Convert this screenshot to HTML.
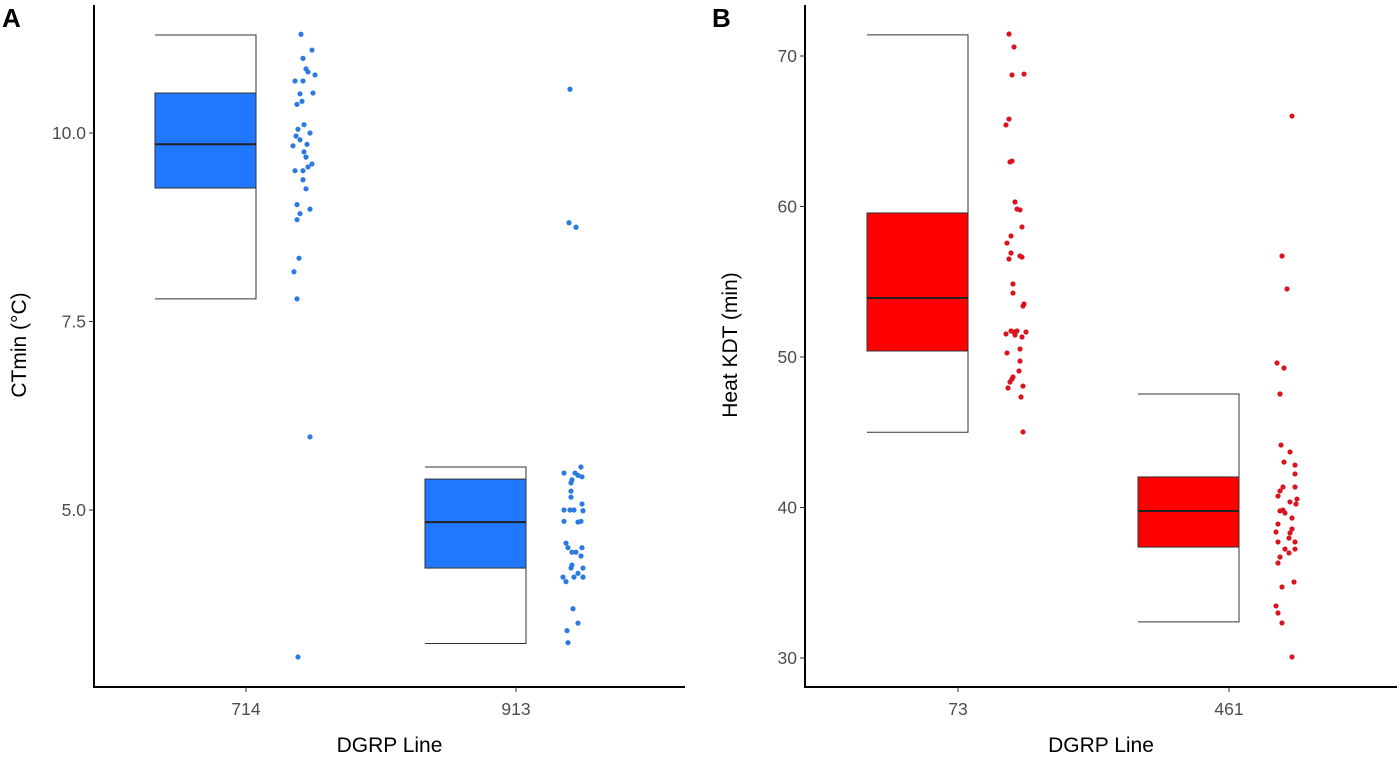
<!DOCTYPE html>
<html><head><meta charset="utf-8"><style>
body{margin:0;background:#fff;}
svg text{font-family:"Liberation Sans",sans-serif;}
</style></head><body>
<svg id="chart" width="1400" height="763"></svg>
<script>
// Panel A data
const catsA = ["714","913"];
const ticksA = [5.0, 7.5, 10.0];
const boxA = [[7.8,9.27,9.85,10.53,11.3],[3.23,4.23,4.84,5.41,5.57]];
const ptsA1 = [11.31,11.10,10.99,10.85,10.81,10.77,10.69,10.69,10.53,10.52,10.42,10.38,10.11,10.05,10.0,9.96,9.91,9.85,9.83,9.75,9.68,9.59,9.55,9.50,9.50,9.38,9.26,9.05,8.99,8.93,8.85,8.34,8.16,7.80,5.97,3.05];
const jitA1 = [-2,9,0,3,5,12,-8,0,10,-3,-1,-6,1,-5,7,-7,-3,4,-10,1,3,9,5,-8,0,0,3,-6,7,-3,-6,-4,-9,-6,7,-5];
const ptsA2 = [10.58,8.81,8.75,5.57,5.49,5.49,5.46,5.44,5.40,5.36,5.25,5.17,5.08,5.0,5.0,5.0,4.99,4.85,4.84,4.85,4.56,4.50,4.50,4.44,4.44,4.39,4.27,4.23,4.23,4.16,4.11,4.11,4.11,4.05,3.69,3.50,3.40,3.24];
const jitA2 = [-3,-4,3,8,-9,2,5,9,-1,-2,-2,-2,9,-9,-3,1,10,-9,5,8,-7,-5,9,-1,3,8,-1,10,-2,5,-10,10,1,-7,0,5,-6,-5];
// Panel B data
const catsB = ["73","461"];
const ticksB = [30,40,50,60,70];
const boxB = [[45.0,50.4,53.92,59.57,71.4],[32.4,37.37,39.77,42.03,47.54]];
const ptsB1 = [71.46,70.60,68.74,68.80,65.81,65.42,62.96,63.02,60.30,59.83,59.77,58.64,58.04,57.57,56.91,56.51,56.71,56.64,54.85,54.25,53.52,53.39,51.53,51.73,51.66,51.73,51.46,51.33,51.66,50.27,50.53,49.73,49.07,48.67,48.54,48.34,48.07,47.94,47.34,45.02];
const jitB1 = [-6,-1,-3,9,-6,-9,-5,-3,0,2,5,7,-4,-8,-4,-6,5,7,-2,-2,9,8,-9,-4,-1,2,0,7,11,-8,5,5,4,-2,-3,-5,8,-7,6,8];
const ptsB2 = [66.01,56.71,54.52,49.60,49.27,47.54,44.15,43.69,43.02,42.82,42.23,41.36,41.36,41.10,40.76,40.56,40.37,40.23,39.83,39.77,39.63,39.30,38.90,38.57,38.37,38.31,37.97,37.71,37.71,37.24,37.24,36.98,36.71,36.31,35.05,34.72,33.46,32.99,32.33,30.07];
const jitB2 = [6,-4,1,-9,-2,-6,-5,4,-2,9,9,-3,9,-6,-8,11,4,10,-3,-6,-1,6,-8,6,-10,4,3,-8,9,9,-1,3,-6,-8,8,-4,-10,-8,-4,6];

const NS="http://www.w3.org/2000/svg";
const svg=document.getElementById('chart');
function mk(tag,attrs,parent){const e=document.createElementNS(NS,tag);for(const k in attrs)e.setAttribute(k,attrs[k]);(parent||svg).appendChild(e);return e;}

function panel(o){
  const g=mk('g',{});
  
  
  const y=v=>o.y0+(v-o.v0)*(o.y1-o.y0)/(o.v1-o.v0);
  const x=i=>o.xc0+i*o.step;
  o.boxes.forEach((b,i)=>{
    const cx=x(i), l=cx-91, r=cx+10;
    const wl=mk('path',{d:`M${l} ${y(b[4])}H${r}V${y(b[3])}M${r} ${y(b[1])}V${y(b[0])}H${l}`,fill:'none',stroke:'#333','stroke-width':1},g);
    
    
    const rc=mk('rect',{x:l,y:y(b[3]),width:r-l,height:y(b[1])-y(b[3]),fill:o.color,stroke:'#333','stroke-width':1},g);
    
    
    const md=mk('line',{x1:l,x2:r,y1:y(b[2]),y2:y(b[2]),stroke:'#222','stroke-width':2},g);
    
    
  });
  o.pts.forEach((arr,i)=>{
    arr.forEach((v,k)=>{
      const c=mk('circle',{cx:x(i)+57+o.jit[i][k],cy:y(v),r:2.6,fill:o.dot},g);
      
      
    });
  });
  const ax=mk('path',{d:`M${o.ax} 5V${o.ab}H${o.ar}`,fill:'none',stroke:'#000','stroke-width':2},g);
  
  
  o.ticks.forEach(t=>{
    mk('line',{x1:o.ax-5,x2:o.ax,y1:y(t),y2:y(t),stroke:'#333','stroke-width':1},g);
    const tx=mk('text',{x:o.ax-8,y:y(t)+6,'text-anchor':'end','font-size':17.5,fill:'#4d4d4d'},g);
    tx.textContent=o.fmt(t);
    
    
  });
  o.cats.forEach((c,i)=>{
    mk('line',{x1:x(i),x2:x(i),y1:o.ab,y2:o.ab+5,stroke:'#333','stroke-width':1},g);
    const tx=mk('text',{x:x(i),y:o.ab+28,'text-anchor':'middle','font-size':17.5,fill:'#4d4d4d'},g);
    tx.textContent=c;
    
    
  });
  const xt=mk('text',{x:(o.ax+o.ar)/2,y:752,'text-anchor':'middle','font-size':21,fill:'#000'},g);
  xt.textContent='DGRP Line';
  
  
  const yt=mk('text',{x:0,y:0,'text-anchor':'middle','font-size':21,fill:'#000',transform:`translate(${o.ytx},345) rotate(-90)`},g);
  yt.textContent=o.ytitle;
  
  
  const lb=mk('text',{x:o.lx,y:27,'font-size':26,'font-weight':'bold',fill:'#000'},g);
  lb.textContent=o.label;
  
  
}
panel({name:'panel-a',cats:catsA,ticks:ticksA,boxes:boxA,pts:[ptsA1,ptsA2],jit:[jitA1,jitA2],
  v0:10,y0:133,v1:5,y1:510,xc0:246,step:270,ax:94,ar:685,ab:687,color:'#1f78ff',dot:'#2a7ae2',
  fmt:t=>t.toFixed(1),ytitle:'CTmin (°C)',ytx:26,label:'A',lx:2});
panel({name:'panel-b',cats:catsB,ticks:ticksB,boxes:boxB,pts:[ptsB1,ptsB2],jit:[jitB1,jitB2],
  v0:70,y0:56,v1:30,y1:658,xc0:958,step:271,ax:805,ar:1397,ab:687,color:'#ff0000',dot:'#d9141e',
  fmt:t=>String(t),ytitle:'Heat KDT (min)',ytx:737,label:'B',lx:712});
</script>
</body></html>
